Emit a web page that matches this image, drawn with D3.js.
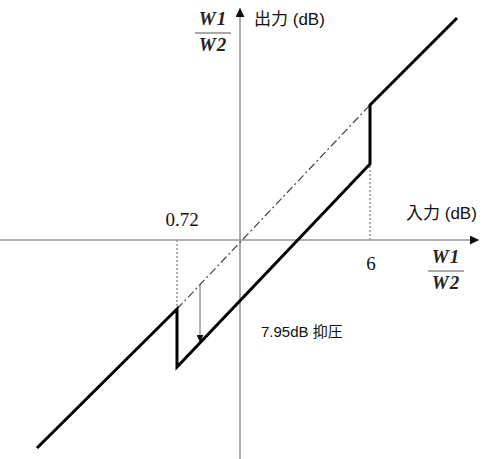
<!DOCTYPE html>
<html><head><meta charset="utf-8">
<script src="https://cdn.jsdelivr.net/npm/d3@7"></script>
<style>html,body{margin:0;padding:0;background:#fff;}svg{display:block;}</style>
</head><body>
<script>
// Schematic units (input/output level, arbitrary dB-like units)
const curveX = [-20.3, -6.3, -6.3, 13.0, 13.0, 21.7];
const curveY = [-20.8, -6.9, -12.7, 7.6, 13.5, 22.2];
const refX = [-6.3, 13.0];
const refY = [-6.9, 13.5];
const thresholdX = [-6.3, 13.0];
const thresholdY = [-6.9, 7.6];
const thresholdLabels = ["0.72", "6"];
const suppressX = [-4.0];
const suppressY = [[-4.5, -10.2]];
const suppressLabel = "7.95dB 抑圧";

const W = 490, H = 459;
const x = d3.scaleLinear().domain([-24, 25]).range([0, W]);
const y = d3.scaleLinear().domain([24, -21.9]).range([0, H]);

const svg = d3.select("body").append("svg").attr("width", W).attr("height", H);
const defs = svg.append("defs");
defs.append("marker").attr("id","ah").attr("viewBox","0 0 10 10").attr("refX",10).attr("refY",5)
  .attr("markerWidth",9).attr("markerHeight",9).attr("markerUnits","userSpaceOnUse").attr("orient","auto")
  .append("path").attr("d","M0,0L10,5L0,10Z").attr("fill","#111");
defs.append("marker").attr("id","ah2").attr("viewBox","0 0 10 10").attr("refX",10).attr("refY",5)
  .attr("markerWidth",7).attr("markerHeight",7).attr("markerUnits","userSpaceOnUse").attr("orient","auto")
  .append("path").attr("d","M0,0L10,5L0,10Z").attr("fill","#111");

// axes
svg.append("line").attr("x1", 0).attr("x2", 479).attr("y1", y(0)).attr("y2", y(0))
  .attr("stroke","#999").attr("stroke-width",1.6).attr("marker-end","url(#ah)");
svg.append("line").attr("x1", x(0)).attr("x2", x(0)).attr("y1", H).attr("y2", 8)
  .attr("stroke","#999").attr("stroke-width",1.6).attr("marker-end","url(#ah)");

// dotted threshold guides
svg.selectAll(".guide").data(thresholdX).join("line")
  .attr("x1", d => x(d)).attr("x2", d => x(d))
  .attr("y1", y(0)).attr("y2", (d,i) => y(thresholdY[i]))
  .attr("stroke","#999").attr("stroke-width",1.5).attr("stroke-dasharray","2,2");

// dash-dot reference (no compression)
svg.append("path").datum(refX.map((d,i)=>[d, refY[i]]))
  .attr("d", d3.line().x(d=>x(d[0])).y(d=>y(d[1])))
  .attr("fill","none").attr("stroke","#444").attr("stroke-width",1.2).attr("stroke-dasharray","8,3,2,3");

// suppression arrow
svg.selectAll(".sup").data(suppressX).join("line")
  .attr("x1", d => x(d)).attr("x2", d => x(d))
  .attr("y1", (d,i) => y(suppressY[i][0])).attr("y2", (d,i) => y(suppressY[i][1]))
  .attr("stroke","#666").attr("stroke-width",1).attr("marker-end","url(#ah2)");

// main curve
svg.append("path").datum(curveX.map((d,i)=>[d, curveY[i]]))
  .attr("d", d3.line().x(d=>x(d[0])).y(d=>y(d[1])))
  .attr("fill","none").attr("stroke","#000").attr("stroke-width",3).attr("stroke-linejoin","miter");

// labels
const sans = "'Liberation Sans', Arial, 'Noto Sans CJK JP', sans-serif";
const serif = "'Liberation Serif', 'Times New Roman', serif";
svg.append("text").attr("x", 254).attr("y", 25).attr("font-family", sans).attr("font-size", 17)
  .attr("fill","#111").text("出力 (dB)");
svg.append("text").attr("x", 406).attr("y", 219).attr("font-family", sans).attr("font-size", 17)
  .attr("fill","#111").text("入力 (dB)");
svg.append("text").attr("x", 261).attr("y", 337).attr("font-family", sans).attr("font-size", 15)
  .attr("fill","#111").text(suppressLabel);

// threshold labels
svg.append("text").attr("x", x(thresholdX[0])+5).attr("y", 226).attr("text-anchor","middle")
  .attr("font-family", serif).attr("font-size", 19).attr("fill","#111").text(thresholdLabels[0]);
svg.append("text").attr("x", x(thresholdX[1])+1).attr("y", 270).attr("text-anchor","middle")
  .attr("font-family", serif).attr("font-size", 19).attr("fill","#111").text(thresholdLabels[1]);

// W1/W2 fractions
function frac(cx, top) {
  const g = svg.append("g");
  g.append("text").attr("x", cx).attr("y", top).attr("text-anchor","middle")
    .attr("font-family", serif).attr("font-size", 19).attr("font-weight","bold").attr("font-style","italic")
    .attr("fill","#222").attr("letter-spacing", 1).text("W1");
  g.append("line").attr("x1", cx-18).attr("x2", cx+18).attr("y1", top+8).attr("y2", top+8)
    .attr("stroke","#555").attr("stroke-width",1.2);
  g.append("text").attr("x", cx).attr("y", top+26).attr("text-anchor","middle")
    .attr("font-family", serif).attr("font-size", 19).attr("font-weight","bold").attr("font-style","italic")
    .attr("fill","#222").attr("letter-spacing", 1).text("W2");
}
frac(213, 25);
frac(446, 263);
</script>
</body></html>
